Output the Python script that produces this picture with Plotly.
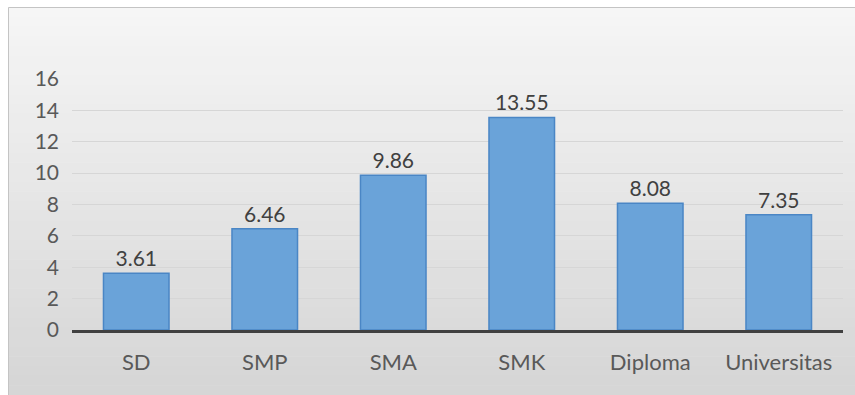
import plotly.graph_objects as go

categories = ["SD", "SMP", "SMA", "SMK", "Diploma", "Universitas"]
values = [3.61, 6.46, 9.86, 13.55, 8.08, 7.35]
y_ticks = [0, 2, 4, 6, 8, 10, 12, 14, 16]

fig = go.Figure()
fig.add_trace(go.Bar(
    x=categories, y=values,
    marker=dict(color="#6aa3d9", line=dict(color="#4a86c5", width=1.5)),
    text=[f"{v:.2f}" for v in values], textposition="outside",
    textfont=dict(family="Lato", size=21, color="#404040"),
    cliponaxis=False,
))

# gradient background box
W, H = 855, 395
L, R, T, B = 72, 12, 79, 65
pw, ph = W - L - R, H - T - B
def px_x(p): return (p - L) / pw
def px_y(p): return (H - B - p) / ph
shapes = []
n = 40
y0p, y1p = 7, 395
for i in range(n):
    a = y0p + (y1p - y0p) * i / n
    b = y0p + (y1p - y0p) * (i + 1) / n
    t = i / (n - 1)
    c = int(246 - t * 32)
    shapes.append(dict(type="rect", xref="paper", yref="paper",
                       x0=px_x(8), x1=px_x(856), y0=px_y(b + 0.5), y1=px_y(a),
                       fillcolor=f"rgb({c},{c},{c})", line=dict(width=0), layer="below"))
shapes.append(dict(type="rect", xref="paper", yref="paper",
                   x0=px_x(8.5), x1=px_x(858), y0=px_y(400), y1=px_y(7.5),
                   fillcolor="rgba(0,0,0,0)", line=dict(color="#c4c4c4", width=1), layer="below"))

fig.update_layout(
    width=W, height=H,
    margin=dict(l=L, r=R, t=T, b=B),
    paper_bgcolor="white", plot_bgcolor="rgba(0,0,0,0)",
    bargap=0.49, showlegend=False, shapes=shapes,
    font=dict(family="Lato", size=21, color="#595959"),
)
fig.update_yaxes(range=[0, 16], tickvals=y_ticks, showgrid=True, gridcolor="#d6d6d6",
                 gridwidth=1, zeroline=False, showline=False, ticks="",
                 ticklabelstandoff=12, tickfont=dict(size=21, color="#595959"))
fig.update_xaxes(showline=True, linecolor="#404040", linewidth=2.5, ticks="",
                 ticklabelstandoff=11, tickfont=dict(size=22, color="#595959"))

fig.write_html("out.html")
